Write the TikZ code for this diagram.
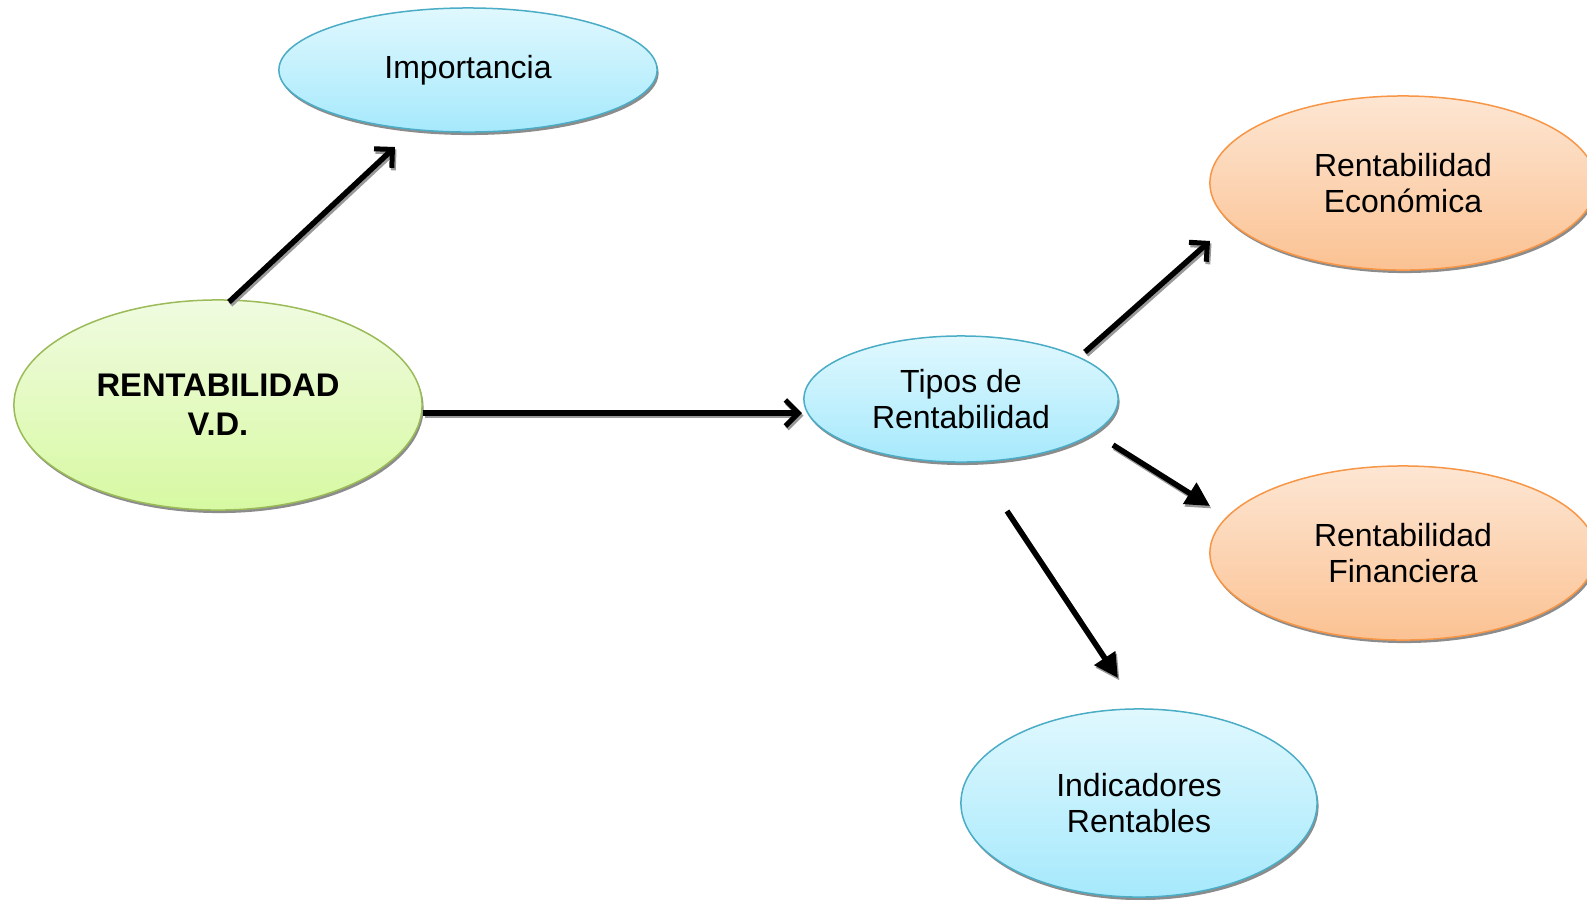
\documentclass[tikz,border=0pt]{standalone}
\usepackage{fontspec}
\setmainfont{Liberation Sans}
\usetikzlibrary{shapes.geometric,arrows.meta,shadows}
\definecolor{cyT}{HTML}{E0F8FE}
\definecolor{cyB}{HTML}{A6E9FC}
\definecolor{cyD}{HTML}{4BACC6}
\definecolor{grT}{HTML}{F0FBE0}
\definecolor{grB}{HTML}{D7F9A2}
\definecolor{grD}{HTML}{9BBB59}
\definecolor{orT}{HTML}{FDE6D3}
\definecolor{orB}{HTML}{FBC293}
\definecolor{orD}{HTML}{F79646}
\tikzset{
  bub/.style={ellipse, inner sep=0pt, line width=0.015cm, align=center,
    font=\fontsize{9.1}{10.3}\selectfont,
    drop shadow={shadow xshift=0.015cm, shadow yshift=-0.03cm, fill=black!45, opacity=1}},
  cyanbub/.style={bub, draw=cyD, top color=cyT, bottom color=cyB},
  greenbub/.style={bub, draw=grD, top color=grT, bottom color=grB},
  orangebub/.style={bub, draw=orD, top color=orT, bottom color=orB},
  arrline/.style={line width=0.055cm, draw=black},
  openarr/.style={arrline, -{Straight Barb[length=0.13cm, width=0.26cm, line width=0.05cm]}},
  fillarr/.style={arrline, -{Triangle[length=0.24cm, width=0.24cm]}},
  shadline/.style={line width=0.055cm, draw=black!40, transform canvas={shift={(0.015cm,-0.025cm)}}},
  openshad/.style={shadline, -{Straight Barb[length=0.13cm, width=0.26cm, line width=0.05cm]}},
  fillshad/.style={shadline, -{Triangle[length=0.24cm, width=0.24cm]}}
}
\begin{document}
\begin{tikzpicture}[x=0.01cm, y=-0.01cm]
\useasboundingbox (0,0) rectangle (1587,899);
\node[cyanbub, minimum width=3.78cm, minimum height=1.24cm] (imp) at (468,70) {Importancia};
\node[greenbub, minimum width=4.08cm, minimum height=2.10cm, font=\fontsize{9.3}{11.2}\selectfont\bfseries] (rent) at (218,405) {RENTABILIDAD\\V.D.};
\node[cyanbub, minimum width=3.14cm, minimum height=1.26cm] (tipos) at (961,399) {Tipos de\\Rentabilidad};
\node[orangebub, minimum width=3.86cm, minimum height=1.74cm] (eco) at (1403,183) {Rentabilidad\\Económica};
\node[orangebub, minimum width=3.86cm, minimum height=1.74cm] (fin) at (1403,553) {Rentabilidad\\Financiera};
\node[cyanbub, minimum width=3.56cm, minimum height=1.88cm] (ind) at (1139,803) {Indicadores\\Rentables};
% free connector ends
\coordinate (a1s) at (229,302); \coordinate (a1e) at (395,147);
\coordinate (a2s) at (423,413); \coordinate (a2e) at (802,413);
\coordinate (a3s) at (1085,352); \coordinate (a3e) at (1210,241);
\coordinate (a4s) at (1113,445); \coordinate (a4e) at (1210,506);
\coordinate (a5s) at (1007,511); \coordinate (a5e) at (1118,678);
% shadows
\draw[openshad] (a1s) -- (a1e);
\draw[openshad] (a2s) -- (a2e);
\draw[openshad] (a3s) -- (a3e);
\draw[fillshad] (a4s) -- (a4e);
\draw[fillshad] (a5s) -- (a5e);
% arrows
\draw[openarr] (a1s) -- (a1e);
\draw[openarr] (a2s) -- (a2e);
\draw[openarr] (a3s) -- (a3e);
\draw[fillarr] (a4s) -- (a4e);
\draw[fillarr] (a5s) -- (a5e);
\end{tikzpicture}
\end{document}
